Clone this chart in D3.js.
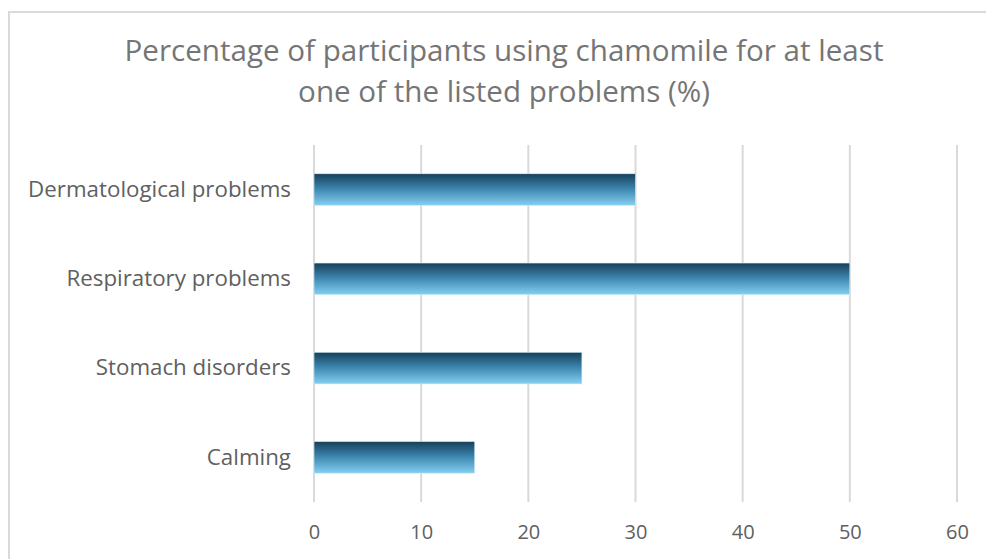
<!DOCTYPE html>
<html><head><meta charset="utf-8">
<script src="https://cdn.jsdelivr.net/npm/d3@7"></script>
<style>
html,body{margin:0;padding:0;background:#fff;}
svg{display:block;}
text{font-family:"Open Sans","Noto Sans",sans-serif;}
</style></head>
<body>
<svg id="chart" width="986" height="559"></svg>
<script>
const titleLines = ["Percentage of participants using chamomile for at least", "one of the listed problems (%)"];
const categories = ["Dermatological problems", "Respiratory problems", "Stomach disorders", "Calming"];
const values = [30, 50, 25, 15];
const xTicks = [0, 10, 20, 30, 40, 50, 60];

const svg = d3.select("#chart");
const W = 986, H = 559;
const m = {left: 314, right: 29, top: 145, bottom: 57};

// chart border
svg.append("rect").attr("x", 9).attr("y", 12).attr("width", W + 20).attr("height", H + 20)
  .attr("fill", "#fff").attr("stroke", "#d9d9d9").attr("stroke-width", 2);

const x = d3.scaleLinear().domain([0, 60]).range([m.left, W - m.right]);
const y = d3.scaleBand().domain(categories).range([m.top, H - m.bottom]).paddingInner(0.645).paddingOuter(0.3225);

const defs = svg.append("defs");
const grad = defs.append("linearGradient").attr("id", "barGrad").attr("x1", 0).attr("y1", 0).attr("x2", 0).attr("y2", 1);
grad.append("stop").attr("offset", "0%").attr("stop-color", "#173f5a");
grad.append("stop").attr("offset", "45%").attr("stop-color", "#3a82aa");
grad.append("stop").attr("offset", "100%").attr("stop-color", "#84d0f2");

// gridlines
svg.append("g").selectAll("line").data(xTicks).join("line")
  .attr("x1", d => x(d)).attr("x2", d => x(d))
  .attr("y1", m.top).attr("y2", H - m.bottom)
  .attr("stroke", "#d9d9d9").attr("stroke-width", 2);

// bars
svg.append("g").selectAll("rect").data(values).join("rect")
  .attr("x", x(0)).attr("y", (d, i) => y(categories[i]))
  .attr("width", d => x(d) - x(0)).attr("height", y.bandwidth())
  .attr("fill", "url(#barGrad)").attr("stroke", "#d6eef9").attr("stroke-width", 0.6);

// x axis
const xAxis = svg.append("g").attr("transform", `translate(0,${H - m.bottom})`)
  .call(d3.axisBottom(x).tickValues(xTicks).tickSize(0).tickPadding(23));
xAxis.select(".domain").remove();
xAxis.selectAll("text").attr("font-size", 20).attr("fill", "#606060")
  .attr("font-family", '"Open Sans","Noto Sans",sans-serif');

// y axis
const yAxis = svg.append("g").attr("transform", `translate(${m.left},0)`)
  .call(d3.axisLeft(y).tickSize(0).tickPadding(23));
yAxis.select(".domain").remove();
yAxis.selectAll("text").attr("font-size", 18).attr("fill", "#606060")
  .attr("font-family", '"Open Sans","Noto Sans",sans-serif');

// title
const tl = svg.append("g").selectAll("text").data(titleLines).join("text")
  .attr("x", 504).attr("y", (d, i) => 61 + i * 41)
  .attr("text-anchor", "middle").attr("font-size", 25).attr("fill", "#757575")
  .text(d => d);
// fit first title line to reference width (~759px)
const w0 = tl.node().getComputedTextLength();
tl.attr("font-size", Math.min(30, 25 * 759 / w0));

// fit category labels so longest ~263px
const lab = yAxis.selectAll("text");
let maxW = 0; lab.each(function(){ maxW = Math.max(maxW, this.getComputedTextLength()); });
lab.attr("font-size", 18 * 263 / maxW);
</script>
</body></html>
